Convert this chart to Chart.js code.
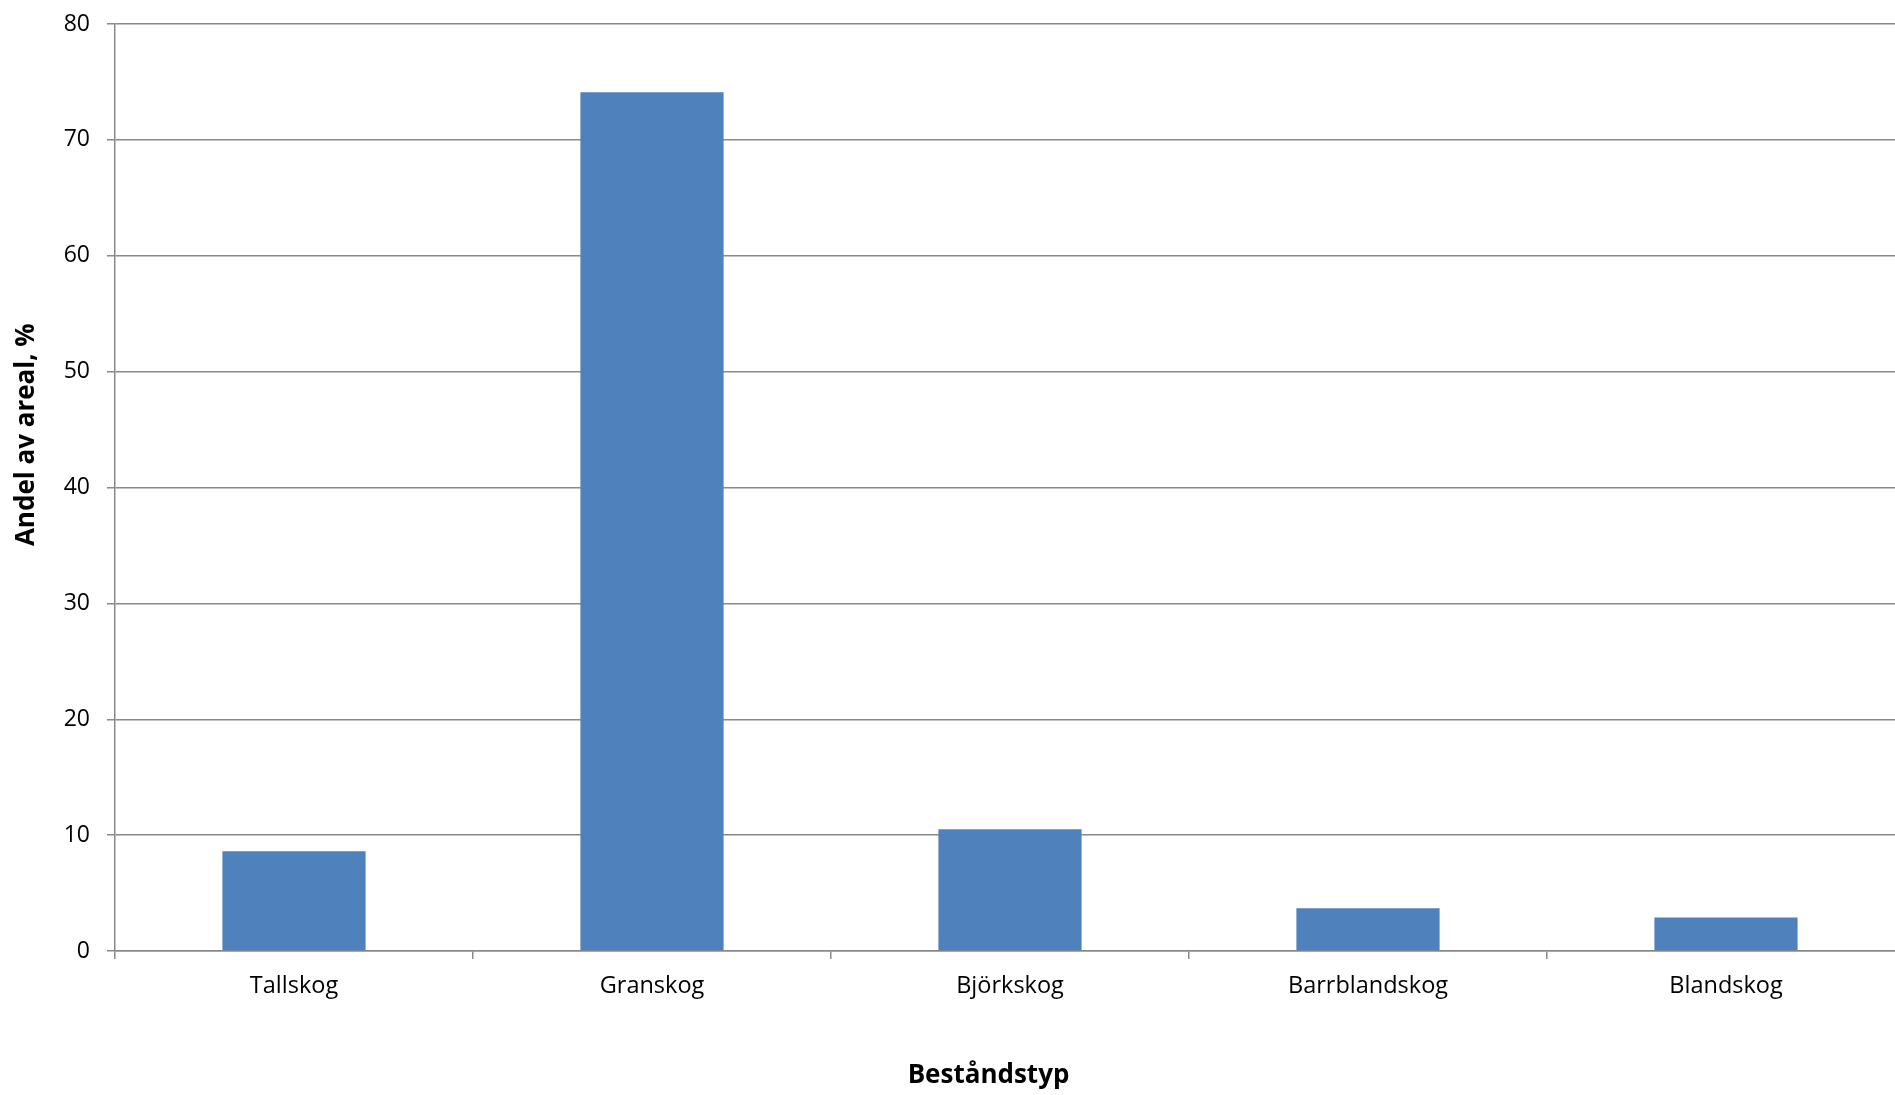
<!DOCTYPE html>
<html>
<head>
<meta charset="utf-8">
<script src="https://cdn.jsdelivr.net/npm/chart.js@4/dist/chart.umd.min.js"></script>
<style>
  html, body { margin: 0; padding: 0; background: #fff; overflow: hidden; }
  #wrap { position: relative; width: 1905px; height: 1095px; }
</style>
</head>
<body>
<div id="wrap"><canvas id="chart"></canvas></div>
<script>
// Data
const categories = ['Tallskog', 'Granskog', 'Björkskog', 'Barrblandskog', 'Blandskog'];
const andelValues = [8.6, 74.1, 10.5, 3.7, 2.9];
const yTicks = [0, 10, 20, 30, 40, 50, 60, 70, 80];

const xTitle = 'Beståndstyp';
const yTitle = 'Andel av areal, %';

const gridColor = '#898989';
const fontFamily = "'Open Sans', 'DejaVu Sans', sans-serif";

// axis titles drawn by hand so they sit where Excel put them
const axisTitles = {
    id: 'axisTitles',
    afterDraw(chart) {
        const ctx = chart.ctx;
        const a = chart.chartArea;
        ctx.save();
        ctx.fillStyle = '#000';
        ctx.font = 'bold 26px ' + fontFamily;
        ctx.textAlign = 'center';
        ctx.textBaseline = 'middle';
        ctx.fillText(xTitle, a.left + (a.right - a.left) * 0.488, 1076);
        ctx.translate(27, a.top + (a.bottom - a.top) * 0.443);
        ctx.rotate(-Math.PI / 2);
        ctx.fillText(yTitle, 0, 0);
        ctx.restore();
    }
};

new Chart(document.getElementById('chart'), {
    type: 'bar',
    data: {
        labels: categories,
        datasets: [{
            label: 'Andel av areal',
            data: andelValues,
            backgroundColor: '#4F81BD',
            borderWidth: 0,
            categoryPercentage: 1.0,
            barPercentage: 0.4
        }]
    },
    options: {
        responsive: true,
        maintainAspectRatio: false,
        animation: false,
        layout: { padding: { top: 24, right: 0, left: 0, bottom: 0 } },
        plugins: {
            legend: { display: false },
            tooltip: { enabled: false }
        },
        scales: {
            x: {
                grid: {
                    offset: true,
                    drawOnChartArea: false,
                    drawTicks: true,
                    tickLength: 8,
                    color: gridColor,
                    lineWidth: 1.5
                },
                border: { color: gridColor, width: 1.5 },
                ticks: {
                    color: '#000',
                    font: { family: fontFamily, size: 23.5 },
                    padding: 13,
                    maxRotation: 0
                },
                afterFit: function(scale) {
                    scale.height = 144;
                    scale.paddingLeft = 0;
                    scale.paddingRight = 0;
                }
            },
            y: {
                min: 0,
                max: 80,
                afterBuildTicks: function(scale) {
                    scale.ticks = yTicks.map(v => ({ value: v }));
                },
                grid: {
                    color: gridColor,
                    lineWidth: 1.5,
                    tickLength: 8
                },
                border: { color: gridColor, width: 1.5 },
                ticks: {
                    color: '#000',
                    font: { family: fontFamily, size: 23 },
                    padding: 17
                },
                afterFit: function(scale) {
                    scale.width = 115;
                    scale.paddingTop = 0;
                    scale.paddingBottom = 0;
                }
            }
        }
    },
    plugins: [axisTitles]
});
</script>
</body>
</html>
